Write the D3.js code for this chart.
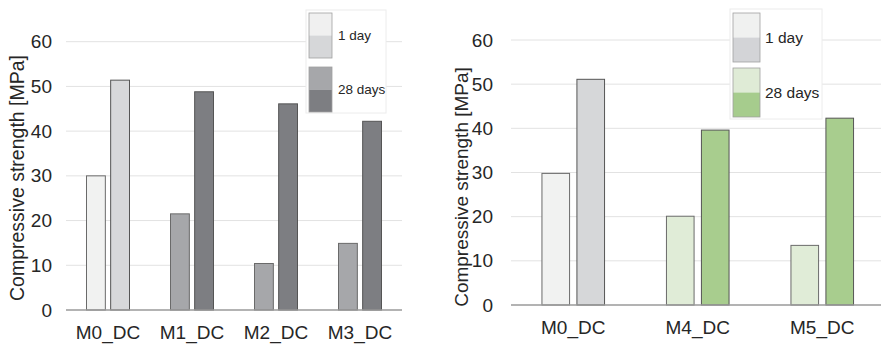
<!DOCTYPE html>
<html>
<head>
<meta charset="utf-8">
<script src="https://cdn.jsdelivr.net/npm/d3@7"></script>
<style>
  body { margin: 0; background: #fff; }
  text { font-family: "Liberation Sans", Arial, sans-serif; fill: #262626; }
</style>
</head>
<body>
<script>
// data
var leftCats = ["M0_DC", "M1_DC", "M2_DC", "M3_DC"];
var leftDay1 = [30.0, 21.5, 10.4, 14.9];
var leftDay28 = [51.4, 48.8, 46.1, 42.2];

var rightCats = ["M0_DC", "M4_DC", "M5_DC"];
var rightDay1 = [29.8, 20.1, 13.5];
var rightDay28 = [51.1, 39.6, 42.3];

var yTicks = [0, 10, 20, 30, 40, 50, 60];
var seriesNames = ["1 day", "28 days"];
var yTitle = "Compressive strength [MPa]";

var svg = d3.select("body").append("svg")
    .attr("width", 881)
    .attr("height", 345);

function drawPanel(p) {
    var x0 = d3.scaleBand().domain(p.cats).range(p.xRange).padding(0);
    var bw = x0.bandwidth();
    var x1 = d3.scaleBand().domain(["d1", "d28"])
        .range([bw / 2 - p.pairW / 2, bw / 2 + p.pairW / 2])
        .paddingInner(p.gap);
    var y = d3.scaleLinear().domain([0, 60]).range(p.yRange);

    var g = svg.append("g");

    // grid
    g.selectAll(".grid").data(yTicks.filter(d => d > 0)).enter()
        .append("line")
        .attr("x1", p.xRange[0]).attr("x2", p.xRange[1])
        .attr("y1", d => y(d)).attr("y2", d => y(d))
        .attr("stroke", "#e2e2e2").attr("stroke-width", 1);

    // tick labels
    g.selectAll(".yt").data(yTicks).enter()
        .append("text")
        .attr("x", p.tickX).attr("y", d => y(d))
        .attr("text-anchor", "end")
        .attr("dominant-baseline", "central")
        .style("font-size", "19px")
        .text(d => d);

    // y title
    g.append("text")
        .attr("transform", `translate(${p.titleX},${p.titleY}) rotate(-90)`)
        .attr("text-anchor", "middle")
        .attr("dominant-baseline", "central")
        .style("font-size", p.titleSize + "px")
        .text(yTitle);

    // bars
    var rows = p.cats.map((c, i) => ({ cat: c, i: i, d1: p.day1[i], d28: p.day28[i] }));
    var grp = g.selectAll(".grp").data(rows).enter()
        .append("g")
        .attr("transform", d => `translate(${x0(d.cat)},0)`);

    grp.append("rect")
        .attr("x", x1("d1")).attr("width", x1.bandwidth())
        .attr("y", d => y(d.d1)).attr("height", d => y(0) - y(d.d1))
        .attr("fill", d => p.col1[d.i])
        .attr("stroke", "#6a6a6a").attr("stroke-width", 1);

    grp.append("rect")
        .attr("x", x1("d28")).attr("width", x1.bandwidth())
        .attr("y", d => y(d.d28)).attr("height", d => y(0) - y(d.d28))
        .attr("fill", d => p.col28[d.i])
        .attr("stroke", "#555").attr("stroke-width", 1);

    // baseline
    g.append("line")
        .attr("x1", p.xRange[0]).attr("x2", p.xRange[1])
        .attr("y1", y(0)).attr("y2", y(0))
        .attr("stroke", "#9a9a9a").attr("stroke-width", 1.5);

    // category labels
    g.selectAll(".xl").data(p.cats).enter()
        .append("text")
        .attr("x", d => x0(d) + bw / 2)
        .attr("y", p.xLabelY)
        .attr("text-anchor", "middle")
        .style("font-size", "19px")
        .text(d => d);

    // legend
    var L = p.legend;
    g.append("rect")
        .attr("x", L.x).attr("y", L.y).attr("width", L.w).attr("height", L.h)
        .attr("fill", "#fff").attr("stroke", "#ececec");
    seriesNames.forEach(function (name, k) {
        var sy = L.swY[k];
        var half = L.swH / 2;
        g.append("rect").attr("x", L.swX).attr("y", sy).attr("width", L.swW).attr("height", half)
            .attr("fill", L.colors[k][0]);
        g.append("rect").attr("x", L.swX).attr("y", sy + half).attr("width", L.swW).attr("height", half)
            .attr("fill", L.colors[k][1]);
        g.append("rect").attr("x", L.swX).attr("y", sy).attr("width", L.swW).attr("height", L.swH)
            .attr("fill", "none").attr("stroke", "#a0a0a0").attr("stroke-width", 0.8);
        g.append("text")
            .attr("x", L.tx).attr("y", sy + half)
            .attr("dominant-baseline", "central")
            .style("font-size", L.fs + "px")
            .text(name);
    });
}

drawPanel({
    cats: leftCats, day1: leftDay1, day28: leftDay28,
    xRange: [66, 402], yRange: [310, 41.7],
    pairW: 43, gap: 0.22,
    col1: ["#f1f2f1", "#a6a7aa", "#a6a7aa", "#a6a7aa"],
    col28: ["#d7d8da", "#7d7e82", "#7d7e82", "#7d7e82"],
    tickX: 52, titleX: 17, titleY: 178, titleSize: 19.5, xLabelY: 338.5,
    legend: {
        x: 306, y: 10, w: 80, h: 103,
        swX: 309, swW: 23, swH: 45, swY: [13, 67],
        tx: 338, fs: 13.5,
        colors: [["#f0f0f0", "#d6d7d9"], ["#a6a7aa", "#7d7e82"]]
    }
});

drawPanel({
    cats: rightCats, day1: rightDay1, day28: rightDay28,
    xRange: [511, 884.5], yRange: [305, 40],
    pairW: 62.6, gap: 0.21,
    col1: ["#f1f2f1", "#e0ecd7", "#e0ecd7"],
    col28: ["#d6d7d9", "#a8cd8e", "#a8cd8e"],
    tickX: 493, titleX: 461, titleY: 187, titleSize: 19, xLabelY: 333.5,
    legend: {
        x: 730, y: 9, w: 92, h: 110,
        swX: 733, swW: 27, swH: 49, swY: [13, 68],
        tx: 765, fs: 15.5,
        colors: [["#f0f1f0", "#d3d4d7"], ["#dfebd6", "#a6cc8d"]]
    }
});
</script>
</body>
</html>
